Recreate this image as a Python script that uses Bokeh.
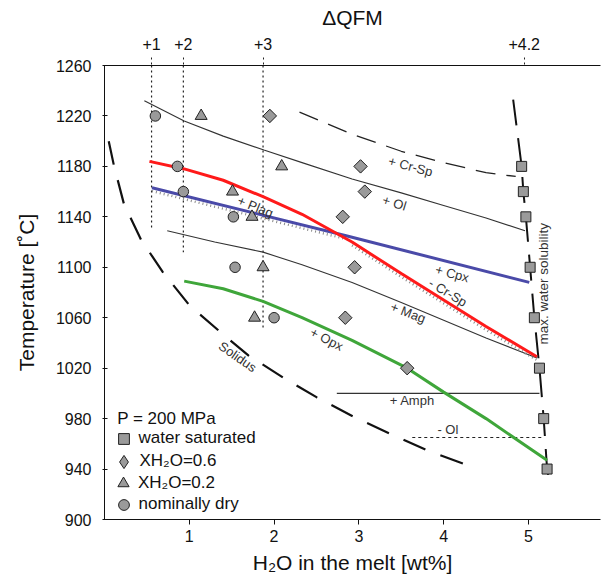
import math
from bokeh.plotting import figure
from bokeh.models import (LinearAxis, FixedTicker, Range1d, Legend, LegendItem, Label,
                          ColumnDataSource)
from bokeh.transform import dodge
from bokeh.embed import file_html
from bokeh.resources import INLINE
from bokeh.core.properties import value

FONT = "Liberation Sans"

# ---------------- data ----------------
# experiments
dry_h2o = [0.60, 0.86, 0.93, 1.52, 1.54, 2.00]
dry_T = [1220, 1180, 1160, 1140, 1100, 1060]
x02_h2o = [1.14, 2.09, 1.51, 1.74, 1.87, 1.77]
x02_T = [1220, 1180, 1160, 1140, 1100, 1060]
x06_h2o = [1.95, 3.02, 3.07, 2.81, 2.95, 2.84, 3.57]
x06_T = [1220, 1180, 1160, 1140, 1100, 1060, 1020]
sat_h2o = [4.92, 4.94, 4.97, 5.02, 5.07, 5.13, 5.18, 5.22]
sat_T = [1180, 1160, 1140, 1100, 1060, 1020, 980, 940]

# phase boundaries
ol_h2o = [0.47, 0.94, 1.40, 1.88, 2.33, 2.92, 3.50, 4.00, 4.50, 4.96]
ol_T = [1232, 1216, 1204, 1193, 1183, 1170, 1159, 1149, 1139, 1129]
crsp_h2o = [2.30, 2.90, 3.50, 4.00, 4.50, 4.85]
crsp_T = [1223, 1206, 1192, 1183, 1175, 1172]
mag_h2o = [0.74, 1.30, 1.87, 2.33, 2.92, 3.50, 4.00, 4.50, 5.10]
mag_T = [1129, 1120, 1112, 1102, 1088, 1072, 1058, 1044, 1028]
red_h2o = [0.53, 0.94, 1.40, 1.87, 2.33, 2.92, 3.50, 4.00, 4.50, 5.10]
red_T = [1184, 1178, 1169, 1156, 1142, 1120, 1095, 1074, 1053, 1029]
blue_h2o = [0.56, 2.85, 5.01]
blue_T = [1163, 1125, 1088]
green_h2o = [0.94, 1.40, 1.87, 2.33, 2.92, 3.57, 4.00, 4.50, 5.22]
green_T = [1089, 1083, 1073, 1060, 1042, 1020, 1001, 980, 947]
solidus_h2o = [0.05, 0.11, 0.23, 0.43, 0.69, 1.00, 1.36, 1.70, 2.12, 2.50, 2.95, 3.37, 3.80, 4.24]
solidus_T = [1200, 1181, 1150, 1122, 1096, 1070, 1049, 1030, 1012, 997, 981, 968, 955, 944]
solub_h2o = [4.82, 4.92, 4.94, 4.97, 5.02, 5.07, 5.13, 5.18, 5.22, 5.25]
solub_T = [1233, 1180, 1160, 1140, 1100, 1060, 1020, 980, 940, 929]
amph_h2o = [2.74, 5.13]
amph_T = [1000, 1000]
olout_h2o = [3.63, 5.18]
olout_T = [965, 965]

# delta QFM (top axis)
qfm_h2o = [0.555, 0.93, 1.87, 4.95]
qfm_labels = ["+1", "+2", "+3", "+4.2"]
qfm_guide_h2o = [0.555, 0.93, 1.87]
qfm_guide_T_end = [1130, 1112, 1050]

x_ticks = [1, 2, 3, 4, 5]
y_ticks = [900, 940, 980, 1020, 1060, 1100, 1140, 1180, 1220, 1260]

# annotation texts
ann_text = ["+ Cr-Sp", "+ Ol", "+ Plag", "+ Cpx", "- Cr-Sp", "+ Mag", "+ Opx", "Solidus", "+ Amph", "- Ol"]
ann_h2o = [3.61, 3.42, 1.78, 4.10, 4.05, 3.58, 2.62, 1.57, 3.63, 4.05]
ann_T = [1180, 1151, 1148, 1095, 1080, 1064, 1043, 1029, 994, 971]
ann_angle_deg = [-15, -17, -22, -15, -31, -21, -27, -35, 0, 0]

legend_labels = ["water saturated", "XH\u2082O=0.6", "XH\u2082O=0.2", "nominally dry"]

# ---------------- figure ----------------
p = figure(width=607, height=579, output_backend="svg", toolbar_location=None,
           x_range=Range1d(0, 5.85), y_range=Range1d(900, 1260),
           min_border_left=104, min_border_right=7, min_border_top=65, min_border_bottom=60)
p.grid.visible = False
p.outline_line_color = None
p.background_fill_color = "white"
p.border_fill_color = "white"

xa = p.xaxis[0]
ya = p.yaxis[0]
xa.ticker = FixedTicker(ticks=x_ticks)
ya.ticker = FixedTicker(ticks=y_ticks)
xa.axis_label = "H\u2082O in the melt [wt%]"
ya.axis_label = "Temperature [\u02daC]"
for ax in (xa, ya):
    ax.axis_label_text_font = FONT
    ax.axis_label_text_font_style = "normal"
    ax.axis_label_text_font_size = "21px"
    ax.axis_label_text_color = "#111111"
    ax.major_label_text_font = FONT
    ax.major_label_text_font_size = "16px"
    ax.major_label_text_color = "#111111"
    ax.minor_tick_line_color = None
    ax.axis_line_color = "#111111"
    ax.major_tick_line_color = "#111111"
xa.major_tick_out = 5
xa.major_tick_in = 0
xa.major_label_standoff = 5
xa.axis_label_standoff = 6
ya.major_tick_out = 2
ya.major_tick_in = 3
ya.major_label_standoff = 11
ya.axis_label_standoff = 15

ta = LinearAxis(ticker=FixedTicker(ticks=qfm_h2o),
                major_label_overrides={k: v for k, v in zip(qfm_h2o, qfm_labels)},
                axis_label="\u0394QFM")
ta.axis_label_text_font = FONT
ta.axis_label_text_font_style = "normal"
ta.axis_label_text_font_size = "21px"
ta.axis_label_text_color = "#111111"
ta.axis_label_standoff = 6
ta.major_label_text_font = FONT
ta.major_label_text_font_size = "16px"
ta.major_label_text_color = "#111111"
ta.major_tick_out = 8
ta.major_tick_in = 0
ta.major_label_standoff = 8
ta.major_tick_line_dash = "2 3"
ta.major_tick_line_color = "#222222"
ta.minor_tick_line_color = None
ta.axis_line_color = "#111111"
p.add_layout(ta, "above")

# dotted QFM guides
p.segment(x0=qfm_guide_h2o, y0=[1260] * len(qfm_guide_h2o), x1=qfm_guide_h2o, y1=qfm_guide_T_end,
          line_color="#222222", line_width=1.2, line_dash="2 3")

# phase boundary lines
p.line(solidus_h2o, solidus_T, line_color="#111111", line_width=2.2, line_dash="24 16")
p.line(crsp_h2o, crsp_T, line_color="#222222", line_width=1.3, line_dash="20 11")
p.line(solub_h2o, solub_T, line_color="#111111", line_width=2, line_dash="26 13")
p.line(ol_h2o, ol_T, line_color="#333333", line_width=1.1)
p.line(mag_h2o, mag_T, line_color="#333333", line_width=1.1)
p.line(amph_h2o, amph_T, line_color="#333333", line_width=1.1)
p.line(olout_h2o, olout_T, line_color="#222222", line_width=1.1, line_dash="3 3")

# hatched sides (plagioclase-in along blue, Cr-spinel-out along red)
blue_src = ColumnDataSource(dict(h=blue_h2o[:2], T=blue_T[:2]))
red_src = ColumnDataSource(dict(h=red_h2o[5:], T=red_T[5:]))
p.line(x="h", y=dodge("T", -2.6, range=p.y_range), source=blue_src,
       line_color="#888888", line_width=2.5, line_dash="1 3")
p.line(x="h", y=dodge("T", -2.6, range=p.y_range), source=red_src,
       line_color="#888888", line_width=2.5, line_dash="1 3")

p.line(green_h2o, green_T, line_color="#3fa63a", line_width=3)
p.line(blue_h2o, blue_T, line_color="#4a4aa8", line_width=3)
p.line(red_h2o, red_T, line_color="#ff1a1a", line_width=3)

# annotations
ann_src = ColumnDataSource(dict(x=ann_h2o, y=ann_T, t=ann_text,
                                a=[math.radians(d) for d in ann_angle_deg]))
p.text(x="x", y="y", text="t", angle="a", source=ann_src, text_align="center",
       text_baseline="middle", text_font=value(FONT), text_font_size="13px",
       text_color="#333333")
p.text(x=[5.18], y=[1087], text=["max. water solubility"], angle=[math.pi / 2],
       text_align="center", text_baseline="middle", text_font=value(FONT),
       text_font_size="13.5px", text_color="#333333")

# experiments
mk = dict(fill_color="#9a9a9a", line_color="#222222", line_width=1)
r_sq = p.scatter(sat_h2o, sat_T, marker="square", size=10, **mk)
# narrow diamonds hidden under the rotated squares: they supply the legend swatch
# (legend swatches ignore marker angle)
r_di_leg = p.scatter(x06_h2o, x06_T, marker="diamond", size=12.5, **mk)
r_di = p.scatter(x06_h2o, x06_T, marker="square", angle=math.pi / 4, size=9.5, **mk)
r_tr = p.scatter(x02_h2o, x02_T, marker="triangle", size=12, **mk)
r_ci = p.scatter(dry_h2o, dry_T, marker="circle", size=10.5, **mk)

p.add_layout(Label(x=0.15, y=980, text="P = 200 MPa", text_baseline="middle",
                   text_font=FONT, text_font_size="17px", text_color="#111111"))

# one legend per row so that rows can be closer than the swatch boxes
leg_rend = [r_sq, r_di_leg, r_tr, r_ci]
leg_box = [27, 33, 28, 27]
leg_row_bottom = [67.5, 44.5, 22.5, 1.5]
for lab, rend, box, yb in zip(legend_labels, leg_rend, leg_box, leg_row_bottom):
    off = (box - 27) / 2.0
    lg = Legend(items=[LegendItem(label=lab, renderers=[rend])],
                location=(5.5 - off, yb - off), orientation="vertical",
                border_line_color=None, background_fill_alpha=0, padding=0, margin=0,
                spacing=0, glyph_width=box, glyph_height=box, label_height=box,
                label_standoff=max(0, int(round(1.5 - off))),
                label_text_font=FONT, label_text_font_size="17px",
                label_text_color="#111111", label_text_baseline="middle")
    p.add_layout(lg)

open("out.html", "w").write(file_html(p, INLINE))
